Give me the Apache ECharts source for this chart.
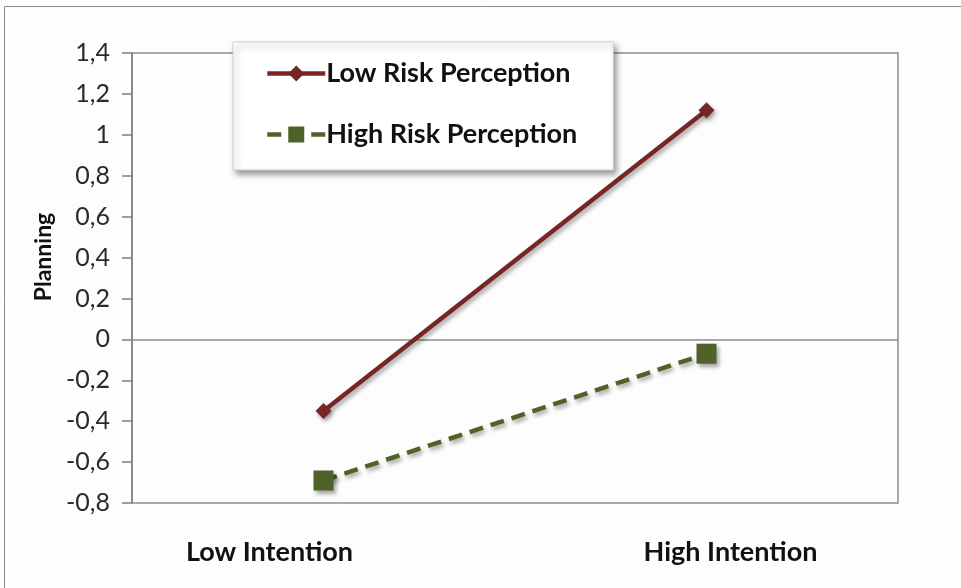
<!DOCTYPE html>
<html>
<head>
<meta charset="utf-8">
<script src="https://cdn.jsdelivr.net/npm/echarts@6/dist/echarts.min.js"></script>
<style>html,body{margin:0;padding:0;background:#fff;}#c{width:961px;height:588px;}</style>
</head>
<body>
<div id="c"></div>
<script>
const categories = ['Low Intention', 'High Intention'];
const lowRiskValues = [-0.35, 1.12];
const highRiskValues = [-0.69, -0.07];
const seriesNames = ['Low Risk Perception', 'High Risk Perception'];
const yTicks = { min: -0.8, max: 1.4, interval: 0.2 };
const axisName = 'Planning';

const chart = echarts.init(document.getElementById('c'), null, { renderer: 'canvas' });
const FONT = 'Lato';
const shadow = { shadowColor: 'rgba(0,0,0,0.35)', shadowBlur: 4, shadowOffsetX: 2, shadowOffsetY: 3 };
// per-label horizontal nudges (reference labels are not centred on the category)
const labelPads = [[0, 108, 0, 0], [0, 0, 0, 48]];
const categoryData = categories.map((c, i) => ({ value: c, textStyle: { padding: labelPads[i] } }));

chart.setOption({
  animation: false,
  backgroundColor: '#fdfdfd',
  graphic: [{
    type: 'rect', shape: { x: 4.5, y: 6.5, width: 1000, height: 700 },
    style: { fill: 'none', stroke: '#8a8a8a', lineWidth: 1 }, silent: true, z: -10
  }],
  grid: { left: 132, right: 63, top: 53, bottom: 85, show: true, borderColor: '#8c8c8c', borderWidth: 1.5, backgroundColor: 'transparent' },
  legend: {
    orient: 'vertical', left: 233, top: 42,
    padding: [18, 36, 22, 32],
    itemGap: 34, itemWidth: 58, itemHeight: 20,
    backgroundColor: '#ffffff', borderColor: '#d0d0d0', borderWidth: 1,
    shadowColor: 'rgba(0,0,0,0.4)', shadowBlur: 6, shadowOffsetX: 3, shadowOffsetY: 4,
    lineStyle: { width: 4.5 },
    textStyle: { fontFamily: FONT, fontSize: 27, fontWeight: 'bold', color: '#111', padding: [0, 0, 0, -4] },
    data: seriesNames
  },
  xAxis: {
    type: 'category', data: categoryData, boundaryGap: true,
    axisLine: { show: false, onZero: false }, axisTick: { show: false },
    axisLabel: { fontFamily: FONT, fontSize: 27, fontWeight: 'bold', color: '#111', margin: 36 }
  },
  yAxis: {
    type: 'value', min: yTicks.min, max: yTicks.max, interval: yTicks.interval,
    name: axisName, nameLocation: 'middle', nameGap: 76,
    nameTextStyle: { fontFamily: FONT, fontSize: 23, fontWeight: 'bold', color: '#111', padding: [0, 0, 0, 42] },
    axisLine: { show: true, lineStyle: { color: '#808080', width: 1.5 } },
    axisTick: { show: true, inside: false, length: 10, lineStyle: { color: '#808080', width: 1.5 } },
    splitLine: { show: false },
    axisLabel: {
      fontFamily: FONT, fontSize: 25, color: '#2a2a2a', margin: 22,
      formatter: v => (Math.round(v * 10) / 10).toString().replace('.', ',')
    }
  },
  series: [
    {
      name: seriesNames[0], type: 'line', data: lowRiskValues,
      symbol: 'diamond', symbolSize: 16,
      lineStyle: Object.assign({ color: '#772626', width: 4.5 }, shadow),
      itemStyle: Object.assign({ color: '#772626' }, shadow),
      markLine: {
        silent: true, symbol: ['none', 'none'], label: { show: false },
        lineStyle: { color: '#8c8c8c', width: 1.5, type: 'solid', shadowBlur: 0, shadowOffsetX: 0, shadowOffsetY: 0 },
        data: [{ yAxis: 0 }], z: 1
      },
      z: 3
    },
    {
      name: seriesNames[1], type: 'line', data: highRiskValues,
      symbol: 'rect', symbolSize: 20,
      lineStyle: Object.assign({ color: '#4f6228', width: 4.5, type: [14, 8] }, shadow),
      itemStyle: Object.assign({ color: '#4f6228' }, shadow),
      z: 3
    }
  ]
});
</script>
</body>
</html>
